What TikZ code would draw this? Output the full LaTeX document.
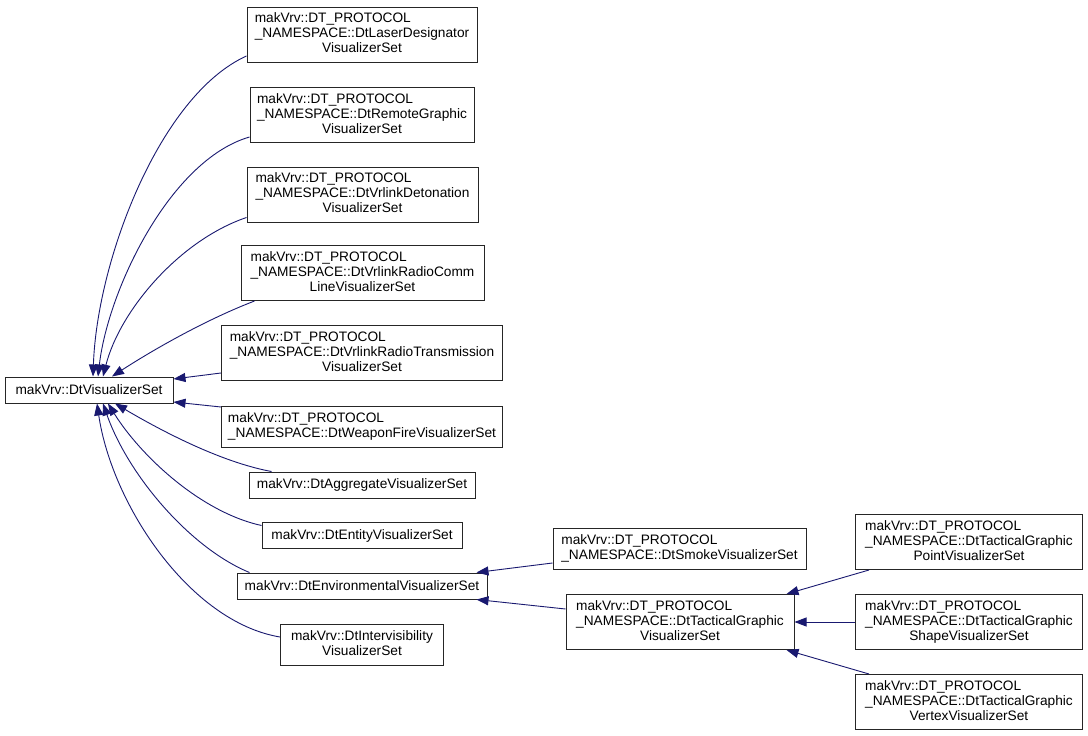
\documentclass[tikz,border=0pt]{standalone}
\usepackage{fontspec}
\setmainfont{Liberation Sans}
\usetikzlibrary{arrows.meta,calc}
\definecolor{edgeblue}{RGB}{25,25,112}
\newcommand\ltwo[2]{\begin{tabular}{@{}l@{}}#1\\\multicolumn{1}{@{}c@{}}{#2}\end{tabular}}
\newcommand\lthree[3]{\begin{tabular}{@{}l@{}}#1\\#2\\\multicolumn{1}{@{}c@{}}{#3}\end{tabular}}
\begin{document}
\begin{tikzpicture}[x=1pt,y=-1pt,
  cls/.style={draw=black!85,line width=1pt,fill=white,inner sep=0pt,align=center,
    font=\fontsize{13.7}{15}\selectfont},
  h1/.style={cls,minimum height=26pt},
  h2/.style={cls,minimum height=41pt},
  h3/.style={cls,minimum height=55pt},
  edge/.style={draw=edgeblue,line width=0.9pt,{Triangle[length=12pt,width=9pt]}-,fill=none},
]
\useasboundingbox (0,0) rectangle (1088,736);
\fill[white] (0,0) rectangle (1088,736);

\node[h1,minimum width=168pt] (root) at (89,390) {makVrv::DtVisualizerSet};

\node[h3,minimum width=230pt] (laser) at (362,35) {\lthree{makVrv::DT\_PROTOCOL}{\_NAMESPACE::DtLaserDesignator}{VisualizerSet}};
\node[h3,minimum width=224pt] (remote) at (362,115) {\lthree{makVrv::DT\_PROTOCOL}{\_NAMESPACE::DtRemoteGraphic}{VisualizerSet}};
\node[h3,minimum width=231pt] (deton) at (362.5,194.5) {\lthree{makVrv::DT\_PROTOCOL}{\_NAMESPACE::DtVrlinkDetonation}{VisualizerSet}};
\node[h3,minimum width=243pt] (radiocomm) at (362.5,273) {\lthree{makVrv::DT\_PROTOCOL}{\_NAMESPACE::DtVrlinkRadioComm}{LineVisualizerSet}};
\node[h3,minimum width=281pt] (radiotrans) at (362,353) {\lthree{makVrv::DT\_PROTOCOL}{\_NAMESPACE::DtVrlinkRadioTransmission}{VisualizerSet}};
\node[h2,minimum width=281pt] (weapon) at (362,427) {\ltwo{makVrv::DT\_PROTOCOL}{\_NAMESPACE::DtWeaponFireVisualizerSet}};
\node[h1,minimum width=226pt] (aggregate) at (362,485) {makVrv::DtAggregateVisualizerSet};
\node[h1,minimum width=200pt] (entity) at (362,535.5) {makVrv::DtEntityVisualizerSet};
\node[h1,minimum width=250pt] (env) at (362,586) {makVrv::DtEnvironmentalVisualizerSet};
\node[h2,minimum width=163pt] (intervis) at (362,645) {\ltwo{makVrv::DtIntervisibility}{VisualizerSet}};

\node[h2,minimum width=253pt] (smoke) at (679.5,549) {\ltwo{makVrv::DT\_PROTOCOL}{\_NAMESPACE::DtSmokeVisualizerSet}};
\node[h3,minimum width=228pt] (tactical) at (680,622) {\lthree{makVrv::DT\_PROTOCOL}{\_NAMESPACE::DtTacticalGraphic}{VisualizerSet}};

\node[h3,minimum width=227pt] (point) at (969,542) {\lthree{makVrv::DT\_PROTOCOL}{\_NAMESPACE::DtTacticalGraphic}{PointVisualizerSet}};
\node[h3,minimum width=227pt] (shape) at (969,622) {\lthree{makVrv::DT\_PROTOCOL}{\_NAMESPACE::DtTacticalGraphic}{ShapeVisualizerSet}};
\node[h3,minimum width=227pt] (vertex) at (969,702) {\lthree{makVrv::DT\_PROTOCOL}{\_NAMESPACE::DtTacticalGraphic}{VertexVisualizerSet}};

% edges to root (arrow at parent)
\draw[edge] ($(root.north)+(4,0)$) .. controls (97,260) and (160,95) .. ($(laser.west)+(0,21)$);
\draw[edge] ($(root.north)+(9,0)$) .. controls (108,290) and (170,160) .. ($(remote.west)+(0,22)$);
\draw[edge] ($(root.north)+(14,0)$) .. controls (120,310) and (180,240) .. ($(deton.west)+(0,23)$);
\draw[edge] ($(root.north)+(23,0)$) .. controls (145,355) and (200,322) .. ($(radiocomm.south west)+(14,0)$);
\draw[edge] ($(root.east)+(0,-11)$) -- ($(radiotrans.west)+(0,20)$);
\draw[edge] ($(root.east)+(0,12)$) -- ($(weapon.west)+(0,-20)$);
\draw[edge] ($(root.south)+(26,0)$) .. controls (160,430) and (220,462) .. ($(aggregate.north west)+(23,0)$);
\draw[edge] ($(root.south)+(19,0)$) .. controls (140,455) and (200,512) .. ($(entity.west)+(0,-10)$);
\draw[edge] ($(root.south)+(14,0)$) .. controls (128,475) and (190,548) .. ($(env.north west)+(13,0)$);
\draw[edge] ($(root.south)+(8,0)$) .. controls (112,505) and (190,622) .. ($(intervis.west)+(0,-8)$);

% edges to environmental
\draw[edge] ($(env.north east)+(-11,0)$) -- ($(smoke.west)+(0,14)$);
\draw[edge] ($(env.south east)+(-11,0)$) -- ($(tactical.west)+(0,-13)$);

% edges to tactical
\draw[edge] ($(tactical.north east)+(-8,0)$) -- ($(point.south west)+(14,0)$);
\draw[edge] (tactical.east) -- (shape.west);
\draw[edge] ($(tactical.south east)+(-8,0)$) -- ($(vertex.north west)+(14,0)$);
\end{tikzpicture}
\end{document}
